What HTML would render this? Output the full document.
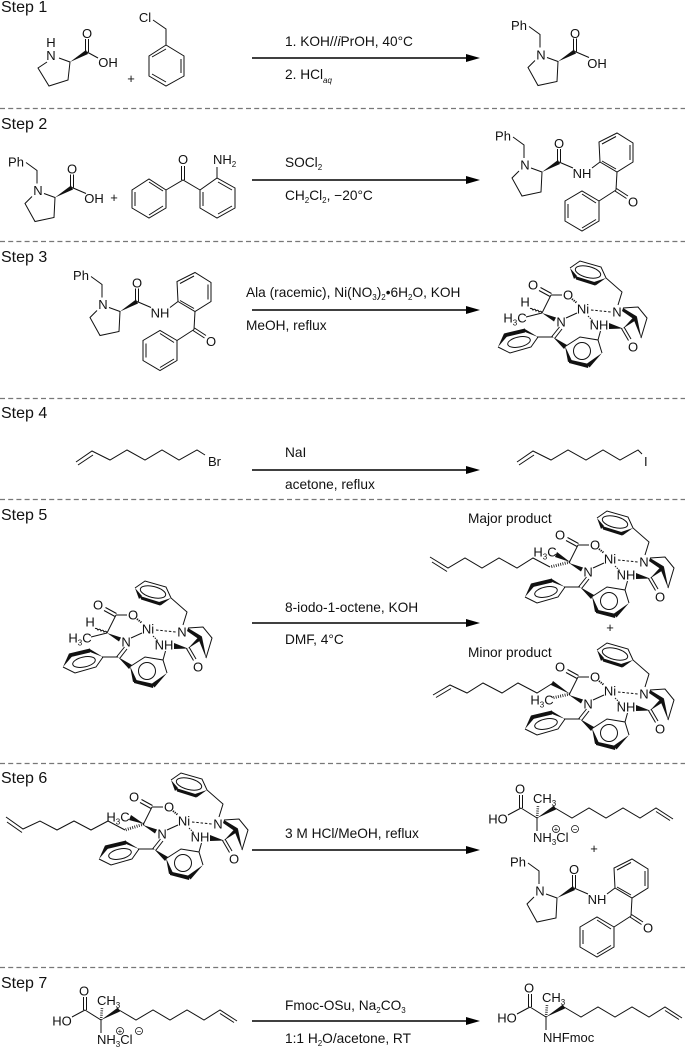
<!DOCTYPE html>
<html><head><meta charset="utf-8"><style>
html,body{margin:0;padding:0;background:#fff}
svg{display:block}
text{font-family:"Liberation Sans",sans-serif;fill:#111}
.a{font-size:13px;text-anchor:middle}
.s{font-size:16px}
.r{font-size:13.7px}
.l line,.l path,.l polyline,.l ellipse,.l circle{fill:none;stroke:#111;stroke-width:1}
.sep{stroke:#777;stroke-width:1.2;stroke-dasharray:5 3.2}
.arr{stroke:#000;stroke-width:1.6}
</style></head><body>
<svg width="685" height="1050" viewBox="0 0 685 1050" xmlns="http://www.w3.org/2000/svg">
<defs>
<g id="bp" class="l">
<polyline points="513,137 524,145 524,158"/>
<polyline points="519,171 512,178 522,196 541,192 542,172 531,168"/>
<polygon points="542,172 558,160 560,164" style="fill:#111"/>
<line x1="557.5" y1="162" x2="557.5" y2="149"/><line x1="560.5" y1="162" x2="560.5" y2="149"/>
<line x1="559" y1="162" x2="573" y2="168"/>
</g>
<g id="amide" class="l">
<use href="#bp"/>
<line x1="592" y1="168" x2="600" y2="162"/>
<polyline points="600,162 599,142 617,133 633,143 633,162 617,172 600,162"/>
<line x1="602" y1="144" x2="616" y2="136.500"/><line x1="630" y1="145" x2="630" y2="160"/><line x1="616" y1="169" x2="602" y2="161"/>
<line x1="617" y1="172" x2="616" y2="190"/>
<line x1="616.500" y1="188.500" x2="628" y2="196"/><line x1="615" y1="191" x2="626.500" y2="198.500"/>
<line x1="616" y1="190" x2="599" y2="201"/>
<polyline points="599,201 599,221 582,231 565,221 565,201 582,191 599,201"/>
<line x1="568" y1="204" x2="568" y2="218"/><line x1="582" y1="228" x2="596" y2="219.500"/><line x1="582" y1="194" x2="596" y2="203"/>
</g>
<g id="ni" class="l">
<!-- top benzyl ring -->
<polyline points="-13,-41 -3,-48 18,-42 23,-31 39,-17 35,-4"/>
<polygon points="-13,-41 -9,-30 -6,-33" style="fill:#111"/>
<polygon points="-8,-33 -7,-29.500 12,-23.500 13,-26.500" style="fill:#111"/>
<polygon points="11,-27 12.500,-23.500 23,-31" style="fill:#111"/>
<ellipse cx="5" cy="-37" rx="13" ry="5.500" transform="rotate(14 5 -37)"/>
<!-- carbonyl -->
<line x1="-33" y1="-12.500" x2="-44" y2="-18.500"/><line x1="-31.500" y1="-15.500" x2="-42.500" y2="-21.500"/>
<line x1="-32" y1="-14" x2="-21" y2="-14"/>
<line x1="-32" y1="-14" x2="-41" y2="4"/>
<!-- to Ni -->
<line x1="-11" y1="-10" x2="-6" y2="-6" style="stroke-width:2;stroke-dasharray:1.200 1"/>
<line x1="8" y1="1" x2="28" y2="3" style="stroke-dasharray:2.500 1.800"/>
<line x1="5" y1="7" x2="10" y2="12" style="stroke-dasharray:1.500 1"/>
<line x1="-17" y1="9" x2="-6" y2="4"/>
<polygon points="-41,4 -27,8.500 -29,12.500" style="fill:#111"/>
<!-- imine -->
<line x1="-23.500" y1="18" x2="-31.500" y2="28"/><line x1="-21" y1="20" x2="-28" y2="29"/>
<line x1="-30" y1="28" x2="-46" y2="28"/>
<polygon points="-30,28 -19,40 -16,36" style="fill:#111"/>
<!-- left phenyl -->
<polyline points="-85,38 -73,44 -52,38 -45,28"/>
<polygon points="-85,38 -79,24.500 -76,27.500" style="fill:#111"/>
<polygon points="-79,24.500 -77,28 -58,23.500 -58,19.500" style="fill:#111"/>
<polygon points="-59,19.500 -58,23 -45,28" style="fill:#111"/>
<ellipse cx="-64" cy="33" rx="11.500" ry="5" transform="rotate(-12 -64 33)"/>
<!-- bottom ring -->
<polyline points="-17,37 -3,28 15,31 19,44"/>
<polygon points="-18,37 -15,53 -11,52" style="fill:#111"/>
<polygon points="-14,50.500 -14,54 5,59 6,55" style="fill:#111"/>
<polygon points="4,54.500 6.500,58.500 19,44" style="fill:#111"/>
<circle cx="-1" cy="42" r="8.500"/>
<line x1="15" y1="31" x2="17.500" y2="22"/>
<!-- amide -->
<polygon points="26,14 26,20 40,19.500" style="fill:#111"/>
<line x1="38.500" y1="19.500" x2="45.500" y2="31.500"/><line x1="41" y1="18" x2="48" y2="30"/>
<polygon points="40,19.500 51,7.500 54,10.500" style="fill:#111"/>
<polygon points="40,-1 39,2 52,11 54,7.500" style="fill:#111"/>
<polyline points="40,-1 55,-2 64,9 58,29"/>
<polygon points="50,9 54,8 58.500,30" style="fill:#111"/>
</g>
<g id="acid" class="l">
<line x1="508" y1="815" x2="521" y2="808"/>
<line x1="519.500" y1="808" x2="519.500" y2="795"/><line x1="522.500" y1="808" x2="522.500" y2="795"/>
<line x1="521" y1="808" x2="537" y2="818"/>
<polygon points="537,818 554,805.500 556,809.500" style="fill:#111"/>
<line x1="537" y1="818" x2="538" y2="806" style="stroke-width:2.600;stroke-dasharray:.8 1.400"/>
<polyline points="555,808 572,818 589,808 606,818 623,808 640,818 656,808 673,819"/>
<line x1="656" y1="811.500" x2="670" y2="820.500"/>
</g>
</defs>

<!-- separators -->
<line class="sep" x1="0" y1="108.500" x2="685" y2="108.500"/>
<line class="sep" x1="0" y1="241.500" x2="685" y2="241.500"/>
<line class="sep" x1="0" y1="398.500" x2="685" y2="398.500"/>
<line class="sep" x1="0" y1="499.500" x2="685" y2="499.500"/>
<line class="sep" x1="0" y1="763.500" x2="685" y2="763.500"/>
<line class="sep" x1="0" y1="967.500" x2="685" y2="967.500"/>

<!-- step labels -->
<text class="s" x="1" y="12">Step 1</text>
<text class="s" x="1" y="129">Step 2</text>
<text class="s" x="1" y="262">Step 3</text>
<text class="s" x="1" y="418">Step 4</text>
<text class="s" x="1" y="520">Step 5</text>
<text class="s" x="1" y="783">Step 6</text>
<text class="s" x="1" y="988">Step 7</text>

<!-- arrows -->
<g>
<line class="arr" x1="252" y1="58" x2="470" y2="58"/><polygon points="466,54 480,58 466,62"/>
<line class="arr" x1="252" y1="180" x2="470" y2="180"/><polygon points="466,176 480,180 466,184"/>
<line class="arr" x1="252" y1="310" x2="470" y2="310"/><polygon points="466,306 480,310 466,314"/>
<line class="arr" x1="252" y1="470" x2="470" y2="470"/><polygon points="466,466 480,470 466,474"/>
<line class="arr" x1="252" y1="623" x2="470" y2="623"/><polygon points="466,619 480,623 466,627"/>
<line class="arr" x1="252" y1="850" x2="470" y2="850"/><polygon points="466,846 480,850 466,854"/>
<line class="arr" x1="252" y1="1021" x2="470" y2="1021"/><polygon points="466,1017 480,1021 466,1025"/>
</g>

<!-- reagents -->
<text class="r" x="285" y="46">1. KOH//<tspan font-style="italic">i</tspan>PrOH, 40°C</text>
<text class="r" x="285" y="79">2. HCl<tspan dy="4" font-size="8" font-style="italic">aq</tspan></text>
<text class="r" x="285" y="167">SOCl<tspan dy="3" font-size="8">2</tspan></text>
<text class="r" x="285" y="200">CH<tspan dy="3" font-size="8">2</tspan><tspan dy="-3">Cl</tspan><tspan dy="3" font-size="8">2</tspan><tspan dy="-3">, −20°C</tspan></text>
<text class="r" x="246" y="297">Ala (racemic), Ni(NO<tspan dy="3" font-size="8">3</tspan><tspan dy="-3">)</tspan><tspan dy="3" font-size="8">2</tspan><tspan dy="-3">•6H</tspan><tspan dy="3" font-size="8">2</tspan><tspan dy="-3">O, KOH</tspan></text>
<text class="r" x="246" y="330">MeOH, reflux</text>
<text class="r" x="285" y="457">NaI</text>
<text class="r" x="285" y="489">acetone, reflux</text>
<text class="r" x="285" y="612">8-iodo-1-octene, KOH</text>
<text class="r" x="285" y="644">DMF, 4°C</text>
<text class="r" x="285" y="838">3 M HCl/MeOH, reflux</text>
<text class="r" x="285" y="1010">Fmoc-OSu, Na<tspan dy="3" font-size="8">2</tspan><tspan dy="-3">CO</tspan><tspan dy="3" font-size="8">3</tspan></text>
<text class="r" x="285" y="1043">1:1 H<tspan dy="3" font-size="8">2</tspan><tspan dy="-3">O/acetone, RT</tspan></text>

<!-- Step 1 reactants -->
<g class="l">
<polyline points="47,62 38,68 49,86 68,80 70,62 59,58"/>
<polygon points="70,62 86,50 88,54" style="fill:#111"/>
<line x1="85.500" y1="52" x2="85.500" y2="39"/><line x1="88.500" y1="52" x2="88.500" y2="39"/>
<line x1="87" y1="52" x2="98" y2="58"/>
<polyline points="153,20 166,29 166,45"/>
<polyline points="166,45 184,56 184,76 166,86 149,76 149,56 166,45"/>
<line x1="181" y1="59" x2="181" y2="73"/><line x1="152" y1="57" x2="166" y2="49"/><line x1="152" y1="74" x2="166" y2="82"/>
</g>
<text class="a" x="51" y="47">H</text>
<text class="a" x="51" y="60">N</text>
<text class="a" x="87" y="38">O</text>
<text class="a" x="108" y="67">OH</text>
<text class="a" x="145" y="22">Cl</text>
<text class="a" x="131" y="83">+</text>

<!-- Step 1 product -->
<use href="#bp" transform="translate(16,-110.500)"/>
<text class="a" x="519" y="30">Ph</text>
<text class="a" x="541" y="59.500">N</text>
<text class="a" x="575" y="38">O</text>
<text class="a" x="597" y="68">OH</text>

<!-- Step 2 reactants -->
<use href="#bp" transform="translate(-487,25.500)"/>
<text class="a" x="16" y="166.500">Ph</text>
<text class="a" x="38" y="195">N</text>
<text class="a" x="72" y="173.500">O</text>
<text class="a" x="94" y="203">OH</text>
<text class="a" x="114" y="202">+</text>
<g class="l">
<polyline points="166,190 183,180 200,190"/>
<line x1="181.500" y1="180" x2="181.500" y2="166"/><line x1="184.500" y1="180" x2="184.500" y2="166"/>
<polyline points="166,190 166,208 149,218 132,208 132,190 149,179 166,190"/>
<line x1="135" y1="192" x2="135" y2="206"/><line x1="149" y1="215" x2="163" y2="206"/><line x1="149" y1="182" x2="163" y2="191"/>
<polyline points="200,190 200,208 217,218 235,208 235,188 217,178 200,190"/>
<line x1="203" y1="192" x2="203" y2="206"/><line x1="218" y1="214" x2="232" y2="206"/><line x1="218" y1="182" x2="232" y2="190"/>
<line x1="217" y1="178" x2="217" y2="167"/>
</g>
<text class="a" x="183" y="164">O</text>
<text style="font-size:13px" x="213" y="164">NH<tspan dy="3" font-size="8">2</tspan></text>

<!-- Step 2 product -->
<use href="#amide"/>
<text class="a" x="503" y="140.500">Ph</text>
<text class="a" x="525" y="169.500">N</text>
<text class="a" x="559" y="148">O</text>
<text class="a" x="582" y="178">NH</text>
<text class="a" x="633" y="206.500">O</text>

<!-- Step 3 reactant -->
<use href="#amide" transform="translate(-422,139.500)"/>
<text class="a" x="81" y="280">Ph</text>
<text class="a" x="103" y="309">N</text>
<text class="a" x="137" y="287.500">O</text>
<text class="a" x="160" y="317.500">NH</text>
<text class="a" x="211" y="346">O</text>

<!-- Step 3 product -->
<g transform="translate(583,309)">
<use href="#ni"/>
<g class="l"><line x1="-41" y1="4" x2="-57" y2="8"/><path d="M-41,4 q-1,-3 -3,-1 q-1,-3 -3,-1 q-1,-3 -3,-1 q-1,-2 -3,-1.500"/></g>
<text class="a" x="-50" y="-19.500">O</text><text class="a" x="-15" y="-9.500">O</text><text class="a" x="0" y="4.500">Ni</text>
<text class="a" x="34" y="7.500">N</text><text class="a" x="16" y="20.500">NH</text><text class="a" x="-22" y="17.500">N</text><text class="a" x="50" y="42.500">O</text>
<text class="a" x="-58" y="-2.500">H</text>
<text class="a" x="-68" y="13.500">H<tspan dy="3" font-size="8">3</tspan><tspan dy="-3">C</tspan></text>
</g>

<!-- Step 4 -->
<g class="l">
<polyline points="76,462 92,451 110,460 127,450 145,460 162,450 179,460 197,450 205,455"/>
<line x1="78" y1="465" x2="93" y2="455"/>
<polyline points="517,462 533,451 551,460 568,450 586,460 603,450 620,460 638,450 642,454"/>
<line x1="519" y1="465" x2="534" y2="455"/>
</g>
<text style="font-size:13px" x="208" y="466">Br</text>
<text style="font-size:13px" x="644" y="466">I</text>

<!-- Step 5 reactant -->
<g transform="translate(148,629)">
<use href="#ni"/>
<g class="l"><line x1="-41" y1="4" x2="-57" y2="8"/><path d="M-41,4 q-1,-3 -3,-1 q-1,-3 -3,-1 q-1,-3 -3,-1 q-1,-2 -3,-1.500"/></g>
<text class="a" x="-50" y="-19.500">O</text><text class="a" x="-15" y="-9.500">O</text><text class="a" x="0" y="4.500">Ni</text>
<text class="a" x="34" y="7.500">N</text><text class="a" x="16" y="20.500">NH</text><text class="a" x="-22" y="17.500">N</text><text class="a" x="50" y="42.500">O</text>
<text class="a" x="-58" y="-2.500">H</text>
<text class="a" x="-68" y="13.500">H<tspan dy="3" font-size="8">3</tspan><tspan dy="-3">C</tspan></text>
</g>

<!-- Step 5 major -->
<text class="r" x="468" y="523">Major product</text>
<g transform="translate(610,559)">
<use href="#ni"/>
<g class="l">
<polyline points="-60,8 -77,-1 -93,9 -111,-1 -128,9 -145,-1 -162,9 -180,-2"/>
<line x1="-163" y1="12.500" x2="-178" y2="3"/>
<line x1="-40" y1="3" x2="-60" y2="8" style="stroke-width:3;stroke-dasharray:.8 1.500"/>
</g>
<polygon points="-40,3 -53,-7 -55,-2" fill="#111"/>
<text class="a" x="-50" y="-19.500">O</text><text class="a" x="-15" y="-9.500">O</text><text class="a" x="0" y="4.500">Ni</text>
<text class="a" x="34" y="7.500">N</text><text class="a" x="16" y="20.500">NH</text><text class="a" x="-22" y="17.500">N</text><text class="a" x="50" y="42.500">O</text>
<text class="a" x="-65" y="-2.500">H<tspan dy="3" font-size="8">3</tspan><tspan dy="-3">C</tspan></text>
</g>
<text class="a" x="610" y="632">+</text>

<!-- Step 5 minor -->
<text class="r" x="468" y="657">Minor product</text>
<g transform="translate(610,691)">
<use href="#ni"/>
<g class="l">
<polyline points="-57,-8 -73,2 -92,-8 -108,2 -127,-8 -143,2 -160,-6 -177,4"/>
<line x1="-159" y1="-2.500" x2="-174" y2="6.500"/>
<line x1="-40" y1="3" x2="-58" y2="7" style="stroke-width:3;stroke-dasharray:.8 1.500"/>
</g>
<polygon points="-40,3 -57,-10 -59,-6" fill="#111"/>
<text class="a" x="-50" y="-19.500">O</text><text class="a" x="-15" y="-9.500">O</text><text class="a" x="0" y="4.500">Ni</text>
<text class="a" x="34" y="7.500">N</text><text class="a" x="16" y="20.500">NH</text><text class="a" x="-22" y="17.500">N</text><text class="a" x="50" y="42.500">O</text>
<text class="a" x="-68" y="13.500">H<tspan dy="3" font-size="8">3</tspan><tspan dy="-3">C</tspan></text>
</g>

<!-- Step 6 reactant -->
<g transform="translate(184,821)">
<use href="#ni"/>
<g class="l">
<polyline points="-59,9 -76,0 -93,9 -110,0 -127,9 -144,0 -161,8 -178,-4"/>
<line x1="-162" y1="11.500" x2="-177" y2="1"/>
<line x1="-40" y1="3" x2="-59" y2="9" style="stroke-width:3;stroke-dasharray:.8 1.500"/>
</g>
<polygon points="-40,3 -53,-6 -55,-1" fill="#111"/>
<text class="a" x="-50" y="-19.500">O</text><text class="a" x="-15" y="-9.500">O</text><text class="a" x="0" y="4.500">Ni</text>
<text class="a" x="34" y="7.500">N</text><text class="a" x="16" y="20.500">NH</text><text class="a" x="-22" y="17.500">N</text><text class="a" x="50" y="42.500">O</text>
<text class="a" x="-66" y="0.500">H<tspan dy="3" font-size="8">3</tspan><tspan dy="-3">C</tspan></text>
</g>

<!-- Step 6 products -->
<use href="#acid"/>
<line x1="537" y1="818" x2="537" y2="831" stroke="#111"/>
<text class="a" x="520" y="793.500">O</text>
<text class="a" x="498" y="823.500">HO</text>
<text style="font-size:13px" x="533" y="803">CH<tspan dy="3" font-size="8">3</tspan></text>
<text style="font-size:13px" x="533" y="842">NH<tspan dy="3" font-size="8">3</tspan><tspan dy="-3">Cl</tspan></text>
<circle cx="556" cy="829" r="3.500" fill="#fff" stroke="#111" stroke-width=".8"/><text x="556" y="832" text-anchor="middle" style="font-size:8px">+</text>
<circle cx="575" cy="829" r="3.500" fill="#fff" stroke="#111" stroke-width=".8"/><text x="575" y="832" text-anchor="middle" style="font-size:8px">−</text>
<text class="a" x="594" y="853">+</text>
<use href="#amide" transform="translate(15,726)"/>
<text class="a" x="518" y="866.500">Ph</text>
<text class="a" x="540" y="895.500">N</text>
<text class="a" x="574" y="874">O</text>
<text class="a" x="597" y="904">NH</text>
<text class="a" x="648" y="932.500">O</text>

<!-- Step 7 reactant -->
<use href="#acid" transform="translate(-436,202)"/>
<line x1="101" y1="1020" x2="101" y2="1033" stroke="#111"/>
<text class="a" x="84" y="995.500">O</text>
<text class="a" x="62" y="1025.500">HO</text>
<text style="font-size:13px" x="97" y="1005">CH<tspan dy="3" font-size="8">3</tspan></text>
<text style="font-size:13px" x="97" y="1044">NH<tspan dy="3" font-size="8">3</tspan><tspan dy="-3">Cl</tspan></text>
<circle cx="120" cy="1031" r="3.500" fill="#fff" stroke="#111" stroke-width=".8"/><text x="120" y="1034" text-anchor="middle" style="font-size:8px">+</text>
<circle cx="139" cy="1031" r="3.500" fill="#fff" stroke="#111" stroke-width=".8"/><text x="139" y="1034" text-anchor="middle" style="font-size:8px">−</text>

<!-- Step 7 product -->
<use href="#acid" transform="translate(9,199)"/>
<line x1="546" y1="1017" x2="546" y2="1030" stroke="#111"/>
<text class="a" x="529" y="992.500">O</text>
<text class="a" x="507" y="1022.500">HO</text>
<text style="font-size:13px" x="542" y="1002">CH<tspan dy="3" font-size="8">3</tspan></text>
<text style="font-size:13px" x="543" y="1042">NHFmoc</text>
</svg>
</body></html>
